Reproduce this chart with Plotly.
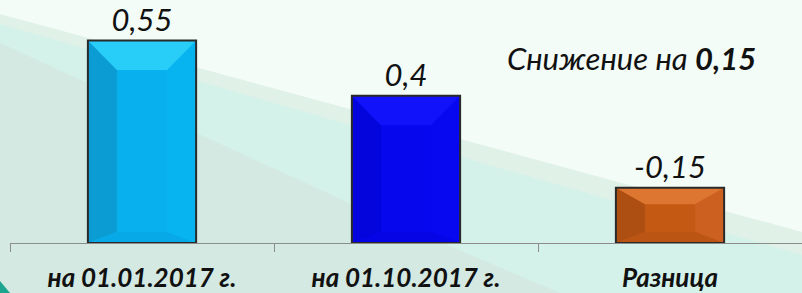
import plotly.graph_objects as go

categories = ["на 01.01.2017 г.", "на 01.10.2017 г.", "Разница"]
values = [0.55, 0.4, -0.15]
value_labels = ["0,55", "0,4", "-0,15"]
note_text = "Снижение на <b>0,15</b>"

main_colors = ["#08b1ed", "#0707ee", "#c45913"]
top_colors = ["#28cdf8", "#1212fa", "#dd7630"]
left_colors = ["#0a9cd2", "#0404dc", "#ad4e12"]
right_colors = ["#08b4f0", "#0808f0", "#cc6020"]
bottom_colors = ["#07aae6", "#0505e6", "#bb5514"]

W, H = 802, 293
heights = [abs(v) for v in values]

fig = go.Figure()
fig.add_trace(go.Bar(
    x=categories, y=heights,
    marker=dict(color=main_colors, line=dict(width=0)),
    text=value_labels, textposition="outside",
    textfont=dict(family="Lato", size=31, color="#111111", style="italic"),
    cliponaxis=False, hoverinfo="skip",
))

shapes = []
hw = 0.205
for i, h in enumerate(heights):
    x0, x1 = i - hw, i + hw
    dx = 0.11
    dy = min(0.08, h * 0.3)
    db = min(0.03, h * 0.2)
    def dpath(pts, color):
        s = "M " + " L ".join(f"{a:.4f},{b:.4f}" for a, b in pts) + " Z"
        return dict(type="path", path=s, xref="x", yref="y",
                    fillcolor=color, line=dict(width=0), layer="above")
    shapes.append(dpath([(x0, 0), (x0, h), (x0 + dx, h - dy), (x0 + dx, db)], left_colors[i]))
    shapes.append(dpath([(x1, 0), (x1, h), (x1 - dx, h - dy), (x1 - dx, db)], right_colors[i]))
    shapes.append(dpath([(x0, 0), (x1, 0), (x1 - dx, db), (x0 + dx, db)], bottom_colors[i]))
    shapes.append(dpath([(x0, h), (x1, h), (x1 - dx, h - dy), (x0 + dx, h - dy)], top_colors[i]))
    shapes.append(dict(type="rect", xref="x", yref="y", x0=x0, x1=x1, y0=0, y1=h,
                       line=dict(color="#2a2a2a", width=2), fillcolor="rgba(0,0,0,0)", layer="above"))

L, R, T, B = 10, 0, 0, 50
pw, ph = W - L - R, H - T - B
def PP(px, py):
    return (px - L) / pw, (H - B - py) / ph
def bpoly(pts, color):
    s = "M " + " L ".join(f"{PP(x, y)[0]:.4f},{PP(x, y)[1]:.4f}" for x, y in pts) + " Z"
    return dict(type="path", path=s, xref="paper", yref="paper",
                fillcolor=color, line=dict(width=0), layer="below")

bg = [
    bpoly([(0, 14), (802, 232), (802, 293), (0, 293)], "#e0f1e7"),
    bpoly([(0, 24), (802, 255), (802, 293), (0, 293)], "#d4f1ea"),
    bpoly([(0, 43), (360, 208), (560, 293), (0, 293)], "#d3e9e1"),
    bpoly([(0, 281), (10, 293), (0, 293)], "#1ea58f"),
]

fig.update_layout(
    width=W, height=H,
    margin=dict(l=L, r=R, t=T, b=B, autoexpand=False),
    paper_bgcolor="#f3fcf7", plot_bgcolor="rgba(0,0,0,0)",
    showlegend=False,
    bargap=0.59,
    shapes=bg + shapes,
    xaxis=dict(
        showline=True, linecolor="#8c8c8c", linewidth=1,
        ticks="outside", tickson="boundaries", ticklen=8, tickcolor="#8c8c8c",
        tickfont=dict(family="Lato", size=26, color="#111111", weight="bold", style="italic"),
        ticklabelstandoff=12, automargin=False,
        showgrid=False, zeroline=False, fixedrange=True,
    ),
    yaxis=dict(range=[0, 0.66], visible=False, showgrid=False, zeroline=False, fixedrange=True),
    annotations=[dict(
        text=note_text, xref="paper", yref="paper",
        x=(631 - L) / pw, y=(H - B - 58) / ph, xanchor="center", yanchor="middle",
        showarrow=False,
        font=dict(family="Lato", size=31, color="#111111", style="italic"),
    )],
)

fig.write_html("out.html", config={"displayModeBar": False},
               post_script="document.body.style.margin='0';document.body.style.overflow='hidden';")
